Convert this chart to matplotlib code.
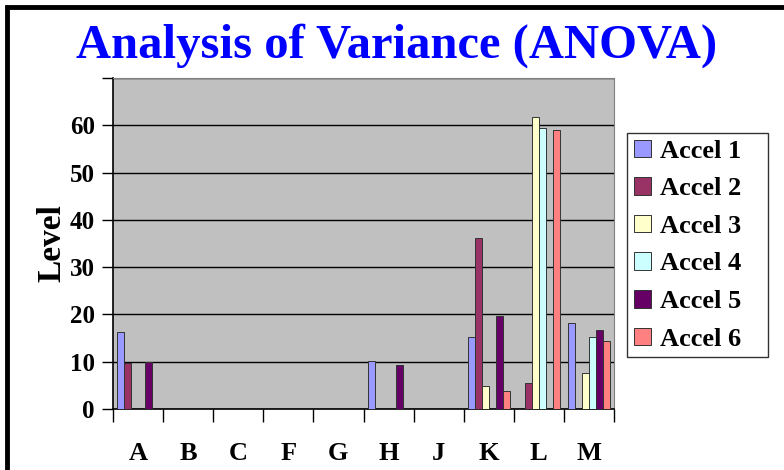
import matplotlib
matplotlib.use('Agg')
import matplotlib.pyplot as plt
from matplotlib.patches import Rectangle
import numpy as np

plt.rcParams['font.family'] = ['Liberation Serif', 'DejaVu Serif']
plt.rcParams['font.weight'] = 'bold'

categories = ['A', 'B', 'C', 'F', 'G', 'H', 'J', 'K', 'L', 'M']
series_names = ['Accel 1', 'Accel 2', 'Accel 3', 'Accel 4', 'Accel 5', 'Accel 6']
accel1 = [16.3, 0, 0, 0, 0, 10.2, 0, 15.2, 0, 18.1]
accel2 = [9.7, 0, 0, 0, 0, 0, 0, 36.2, 5.4, 0]
accel3 = [0, 0, 0, 0, 0, 0, 0, 4.9, 61.8, 7.7]
accel4 = [0, 0, 0, 0, 0, 0, 0, 0, 59.5, 15.3]
accel5 = [9.9, 0, 0, 0, 0, 9.3, 0, 19.7, 0, 16.8]
accel6 = [0, 0, 0, 0, 0, 0, 0, 3.9, 59.1, 14.3]
series = [accel1, accel2, accel3, accel4, accel5, accel6]
colors = ['#9999FF', '#993366', '#FFFFCC', '#CCFFFF', '#660066', '#FF8080']

W, H = 784, 470
fig = plt.figure(figsize=(W / 100, H / 100), dpi=100)
ax = fig.add_axes([113 / W, (H - 409) / H, (614 - 113) / W, (409 - 78) / H])
ax.set_facecolor('#C0C0C0')

x = np.arange(len(categories)) + 0.5
bw = 0.14
for j, (vals, c, name) in enumerate(zip(series, colors, series_names)):
    ax.bar(x + (j - 2.5) * bw, vals, width=bw, color=c, edgecolor='#333333',
           linewidth=0.7, label=name, zorder=3)

ax.set_xlim(0, len(categories))
ax.set_ylim(0, 70)
ax.set_yticks(range(0, 71, 10))
ax.set_yticklabels([str(v) if v < 70 else '' for v in range(0, 71, 10)])
ax.yaxis.grid(True, color='black', linewidth=1)
ax.set_axisbelow(True)

ax.set_xticks(x)
ax.set_xticklabels(categories)
ax.set_xticks(np.arange(len(categories) + 1), minor=True)
ax.tick_params(axis='x', which='major', length=0, pad=24, labelsize=19)
ax.tick_params(axis='x', which='minor', length=9, width=1, direction='out')
ax.tick_params(axis='y', length=8, width=1, direction='out', labelsize=18, pad=5)

for s in ['top', 'right']:
    ax.spines[s].set_color('#808080')
for s in ['left', 'bottom']:
    ax.spines[s].set_color('black')
    ax.spines[s].set_linewidth(1.2)

ax.set_ylabel('Level', fontsize=24, fontweight='bold', labelpad=2)

fig.text(397 / W, 1 - 46 / H, 'Analysis of Variance (ANOVA)', color='#0000FF',
         fontsize=35, fontweight='bold', ha='center', va='center')

# legend box spans a fixed width; entries stay left-aligned inside it
leg = fig.legend(loc='upper left',
                 bbox_to_anchor=(627 / W, (H - 357) / H, 141 / W, 224 / H),
                 mode='expand', fontsize=19, frameon=True, fancybox=False,
                 shadow=False, handlelength=0.65, handleheight=0.65,
                 handletextpad=0.35, labelspacing=0.55, borderpad=0.25,
                 borderaxespad=0)
leg.get_frame().set_edgecolor('black')
leg.get_frame().set_linewidth(1)

# heavy frame around the chart, running off the right and bottom
fig.patches.append(Rectangle((6.5 / W, -0.1), 1.2, 1 - 6.5 / H + 0.1,
                             transform=fig.transFigure, fill=False,
                             edgecolor='black', linewidth=3.5))

fig.savefig('out.png', dpi=100)
